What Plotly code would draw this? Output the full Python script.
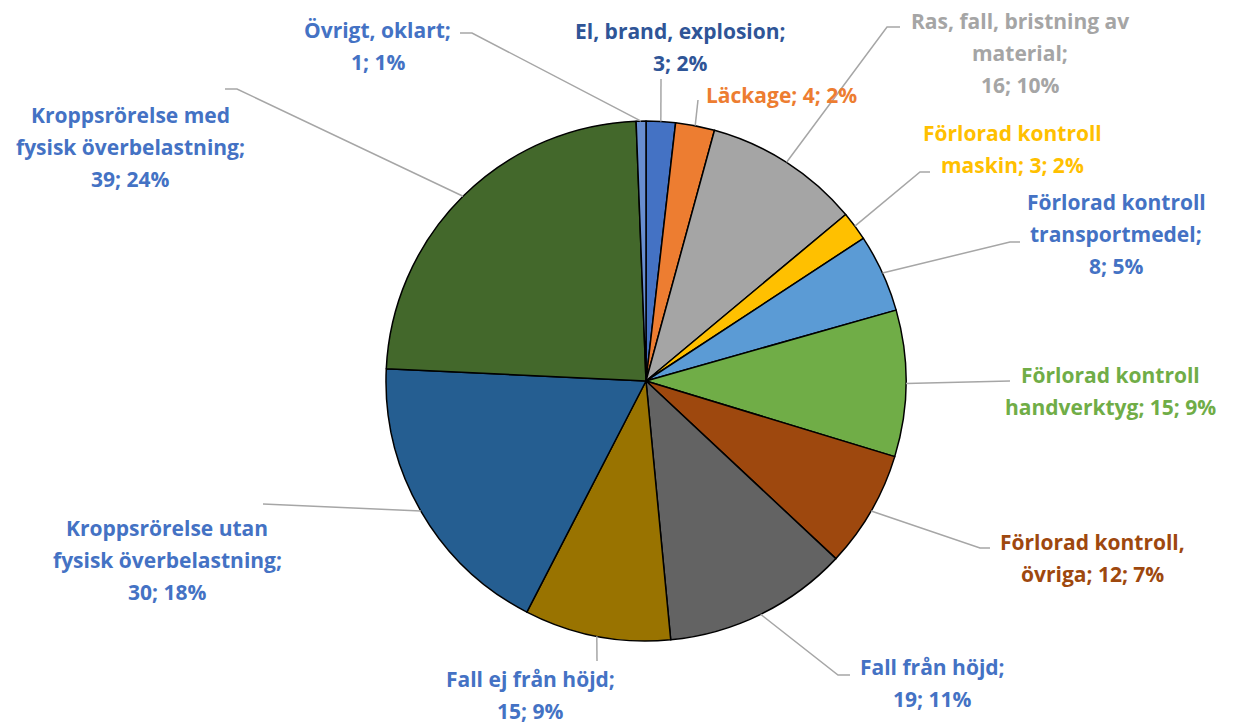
import math
import plotly.graph_objects as go

W, H = 1236, 726

# ---- data ----
categories = [
    "El, brand, explosion", "Läckage", "Ras, fall, bristning av material",
    "Förlorad kontroll maskin", "Förlorad kontroll transportmedel",
    "Förlorad kontroll handverktyg", "Förlorad kontroll, övriga",
    "Fall från höjd", "Fall ej från höjd",
    "Kroppsrörelse utan fysisk överbelastning",
    "Kroppsrörelse med fysisk överbelastning", "Övrigt, oklart",
]
values = [3, 4, 16, 3, 8, 15, 12, 19, 15, 30, 39, 1]
percent_labels = ["2%", "2%", "10%", "2%", "5%", "9%", "7%", "11%", "9%", "18%", "24%", "1%"]
# label text split in lines
label_lines = [
    ["El, brand, explosion;", "{v}; {p}"],
    ["Läckage; {v}; {p}"],
    ["Ras, fall, bristning av", "material;", "{v}; {p}"],
    ["Förlorad kontroll", "maskin; {v}; {p}"],
    ["Förlorad kontroll", "transportmedel;", "{v}; {p}"],
    ["Förlorad kontroll", "handverktyg; {v}; {p}"],
    ["Förlorad kontroll,", "övriga; {v}; {p}"],
    ["Fall från höjd;", "{v}; {p}"],
    ["Fall ej från höjd;", "{v}; {p}"],
    ["Kroppsrörelse utan", "fysisk överbelastning;", "{v}; {p}"],
    ["Kroppsrörelse med", "fysisk överbelastning;", "{v}; {p}"],
    ["Övrigt, oklart;", "{v}; {p}"],
]

# ---- styles ----
slice_colors = ["#4472C4", "#ED7D31", "#A5A5A5", "#FFC000", "#5B9BD5", "#70AD47",
                "#9E480E", "#636363", "#997300", "#255E91", "#43682B", "#698ED0"]
text_colors = ["#2F5597", "#ED7D31", "#A5A5A5", "#FFC000", "#4472C4", "#70AD47",
               "#9E480E", "#4472C4", "#4472C4", "#4472C4", "#4472C4", "#4472C4"]

# layout: pie center/radius in px, label positions (center x, first line y), leader elbows/ends
CX, CY, R = 646, 381, 260
LINE_H = 32
label_pos = [(680, 31), (781, 95), (1020, 21), (1012, 133), (1116, 202), (1110, 375),
             (1092, 542), (932, 667), (530, 679), (167, 528), (130, 115), (378, 30)]
leader = [
    [(661, 79)],
    [(698, 100)],
    [(887, 27), (900, 27)],
    [(920, 172), (930, 172)],
    [(1010, 242), (1020, 242)],
    [(1010, 381)],
    [(980, 548), (990, 548)],
    [(838, 675), (850, 675)],
    [(597, 661)],
    [(263, 504)],
    [(237, 89), (225, 89)],
    [(472, 33), (460, 33)],
]

def px(x):
    return x / W

def py(y):
    return 1 - y / H

fig = go.Figure(go.Pie(
    labels=categories, values=values, sort=False, direction="clockwise", rotation=0,
    marker=dict(colors=slice_colors, line=dict(color="#000000", width=1.5)),
    textinfo="none", hoverinfo="label+value+percent", showlegend=False,
    domain=dict(x=[px(CX - R), px(CX + R)], y=[py(CY + R), py(CY - R)]),
))

total = sum(values)
shapes = []
annotations = []
cum = 0
for i, v in enumerate(values):
    mid = (cum + v / 2) / total * 2 * math.pi
    cum += v
    ex = CX + R * math.sin(mid)
    ey = CY - R * math.cos(mid)
    pts = [(ex, ey)] + leader[i]
    path = "M " + " L ".join(f"{px(a):.5f},{py(b):.5f}" for a, b in pts)
    shapes.append(dict(type="path", path=path, xref="paper", yref="paper",
                       line=dict(color="#A6A6A6", width=1.5)))
    lx, ly = label_pos[i]
    for k, t in enumerate(label_lines[i]):
        annotations.append(dict(
            text=t.format(v=v, p=percent_labels[i]), x=px(lx), y=py(ly + k * LINE_H),
            xref="paper", yref="paper", showarrow=False, xanchor="center", yanchor="middle",
            font=dict(family="Open Sans", size=21, color=text_colors[i], weight="bold"),
        ))

fig.update_layout(
    width=W, height=H, margin=dict(l=0, r=0, t=0, b=0),
    paper_bgcolor="white", plot_bgcolor="white",
    shapes=shapes, annotations=annotations,
)
fig.write_html("out.html", config={"displayModeBar": False},
               post_script="document.body.style.margin='0';")
